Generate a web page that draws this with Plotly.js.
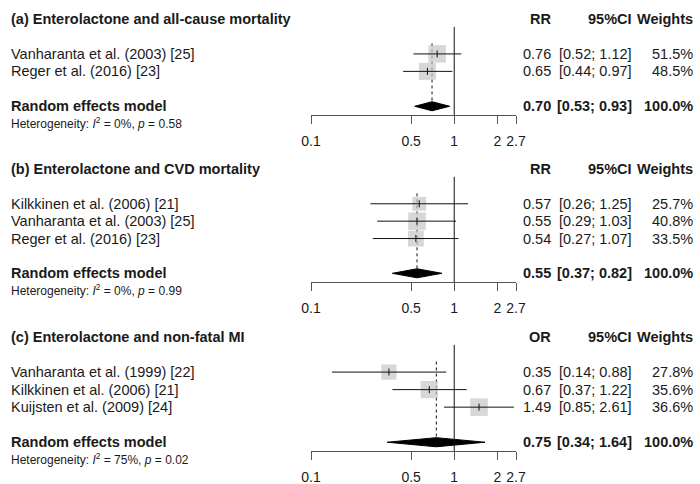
<!DOCTYPE html>
<html><head><meta charset="utf-8">
<script src="https://cdn.plot.ly/plotly-3.0.1.min.js"></script>
<style>html,body{margin:0;padding:0;background:#fff}#chart{width:700px;height:484px}</style>
</head><body><div id="chart"></div>
<script>
// ---------- data ----------
const titleA = "(a) Enterolactone and all-cause mortality";
const measureA = "RR";
const studiesA = ["Vanharanta et al. (2003) [25]", "Reger et al. (2016) [23]"];
const estA = [0.76, 0.65];
const lowA = [0.52, 0.44];
const highA = [1.12, 0.97];
const weightA = [51.5, 48.5];
const summaryA = [0.70, 0.53, 0.93];
const hetA = ["0%", "0.58"];

const titleB = "(b) Enterolactone and CVD mortality";
const measureB = "RR";
const studiesB = ["Kilkkinen et al. (2006) [21]", "Vanharanta et al. (2003) [25]", "Reger et al. (2016) [23]"];
const estB = [0.57, 0.55, 0.54];
const lowB = [0.26, 0.29, 0.27];
const highB = [1.25, 1.03, 1.07];
const weightB = [25.7, 40.8, 33.5];
const summaryB = [0.55, 0.37, 0.82];
const hetB = ["0%", "0.99"];

const titleC = "(c) Enterolactone and non-fatal MI";
const measureC = "OR";
const studiesC = ["Vanharanta et al. (1999) [22]", "Kilkkinen et al. (2006) [21]", "Kuijsten et al. (2009) [24]"];
const estC = [0.35, 0.67, 1.49];
const lowC = [0.14, 0.37, 0.85];
const highC = [0.88, 1.22, 2.61];
const weightC = [27.8, 35.6, 36.6];
const summaryC = [0.75, 0.34, 1.64];
const hetC = ["75%", "0.02"];

const tickVals = [0.1, 0.5, 1, 2, 2.7];
const tickText = ["0.1", "0.5", "1", "2", "2.7"];

// ---------- layout helpers ----------
const W = 700, H = 484;
const FONT = "Liberation Sans, Arial, sans-serif";
const TXT = "#1a1a1a";
const FS = 14.5;
const panels = [
  {title: titleA, measure: measureA, studies: studiesA, est: estA, low: lowA, high: highA, w: weightA, sum: summaryA, het: hetA, top: 19, axis: 115},
  {title: titleB, measure: measureB, studies: studiesB, est: estB, low: lowB, high: highB, w: weightB, sum: summaryB, het: hetB, top: 169, axis: 282},
  {title: titleC, measure: measureC, studies: studiesC, est: estC, low: lowC, high: highC, w: weightC, sum: summaryC, het: hetC, top: 337, axis: 451}
];
const xLeft = 311, xRight = 516;
const colLabel = 9, colEst = 553, colCI = 634, colW = 695;

const traces = [];
const annotations = [];
const shapes = [];
const layout = {
  width: W, height: H,
  margin: {l: 0, r: 0, t: 0, b: 0},
  paper_bgcolor: "#ffffff", plot_bgcolor: "rgba(0,0,0,0)",
  showlegend: false,
  font: {family: FONT, color: TXT, size: FS}
};

panels.forEach((p, k) => {
  const sfx = k === 0 ? "" : String(k + 1);
  const xa = "x" + sfx, ya = "y" + sfx;
  const n = p.studies.length;
  const rows = p.studies.map((_, i) => i + 2);
  const reRow = n + 3;
  const bottom = reRow + 0.5;
  const wmax = Math.max(...p.w);
  const sizes = p.w.map(v => 17.5 * Math.sqrt(v / wmax));
  const rowToPaper = r => 1 - (p.top + r * (p.axis - p.top) / bottom) / H;

  layout["xaxis" + sfx] = {
    type: "log", range: [Math.log10(tickVals[0]), Math.log10(tickVals[tickVals.length - 1])],
    domain: [xLeft / W, xRight / W], anchor: ya,
    showline: true, linecolor: "#555", linewidth: 1,
    ticks: "outside", ticklen: 8, tickcolor: "#555", tickwidth: 1,
    tickvals: tickVals, ticktext: tickText, ticklabelstandoff: 5,
    tickfont: {family: FONT, size: 14, color: TXT},
    showgrid: false, zeroline: false, fixedrange: true
  };
  layout["yaxis" + sfx] = {
    range: [bottom, 0], domain: [1 - p.axis / H, 1 - p.top / H], anchor: xa,
    visible: false, showgrid: false, zeroline: false, fixedrange: true
  };

  // null line
  shapes.push({type: "line", xref: xa, yref: ya, x0: 1, x1: 1, y0: 0.45, y1: bottom,
    line: {color: "#111", width: 1}});

  // dotted summary line
  traces.push({type: "scatter", mode: "lines", xaxis: xa, yaxis: ya,
    x: [p.sum[0], p.sum[0]], y: [1.4, reRow - 0.25],
    line: {color: "#111", width: 1, dash: "dot"}, hoverinfo: "skip"});

  // squares
  traces.push({type: "scatter", mode: "markers", xaxis: xa, yaxis: ya,
    x: p.est, y: rows,
    marker: {symbol: "square", size: sizes, color: "#c6c6c6", line: {width: 0}}, hoverinfo: "skip"});

  // CI lines + centre tick
  traces.push({type: "scatter", mode: "markers", xaxis: xa, yaxis: ya,
    x: p.est, y: rows,
    marker: {symbol: "line-ns", size: 5, color: "#111", line: {color: "#111", width: 1}},
    error_x: {type: "data", symmetric: false,
      array: p.high.map((h, i) => h - p.est[i]),
      arrayminus: p.low.map((l, i) => p.est[i] - l),
      color: "#111", thickness: 1, width: 0},
    hoverinfo: "skip"});

  // diamond
  const dh = 0.26;
  traces.push({type: "scatter", mode: "lines", xaxis: xa, yaxis: ya,
    x: [p.sum[1], p.sum[0], p.sum[2], p.sum[0], p.sum[1]],
    y: [reRow, reRow - dh, reRow, reRow + dh, reRow],
    fill: "toself", fillcolor: "#000", line: {color: "#000", width: 1}, hoverinfo: "skip"});

  // text
  const ann = (x, r, text, anchor, opts) => annotations.push(Object.assign({
    xref: "paper", yref: "paper", x: x / W, y: rowToPaper(r), text: text, xanchor: anchor, yanchor: "middle",
    showarrow: false, font: {family: FONT, size: FS, color: TXT}
  }, opts || {}));

  ann(colLabel, 0, "<b>" + p.title + "</b>", "left");
  ann(colEst, 0, "<b>" + p.measure + "</b>", "right");
  ann(colCI, 0, "<b>95%CI</b>", "right");
  ann(colW, 0, "<b>Weights</b>", "right");
  p.studies.forEach((s, i) => {
    ann(colLabel, rows[i], s, "left");
    ann(colEst, rows[i], p.est[i].toFixed(2), "right");
    ann(colCI, rows[i], "[" + p.low[i].toFixed(2) + "; " + p.high[i].toFixed(2) + "]", "right");
    ann(colW, rows[i], p.w[i].toFixed(1) + "%", "right");
  });
  ann(colLabel, reRow, "<b>Random effects model</b>", "left");
  ann(colEst, reRow, "<b>" + p.sum[0].toFixed(2) + "</b>", "right");
  ann(colCI, reRow, "<b>[" + p.sum[1].toFixed(2) + "; " + p.sum[2].toFixed(2) + "]</b>", "right");
  ann(colW, reRow, "<b>100.0%</b>", "right");
  ann(colLabel, reRow + 0.95, "Heterogeneity: <i>I</i><sup>2</sup> = " + p.het[0] + ", <i>p</i> = " + p.het[1], "left",
    {font: {family: FONT, size: 12, color: TXT}});
});

layout.annotations = annotations;
layout.shapes = shapes;
Plotly.newPlot("chart", traces, layout, {displayModeBar: false, staticPlot: true});
</script>
</body></html>
